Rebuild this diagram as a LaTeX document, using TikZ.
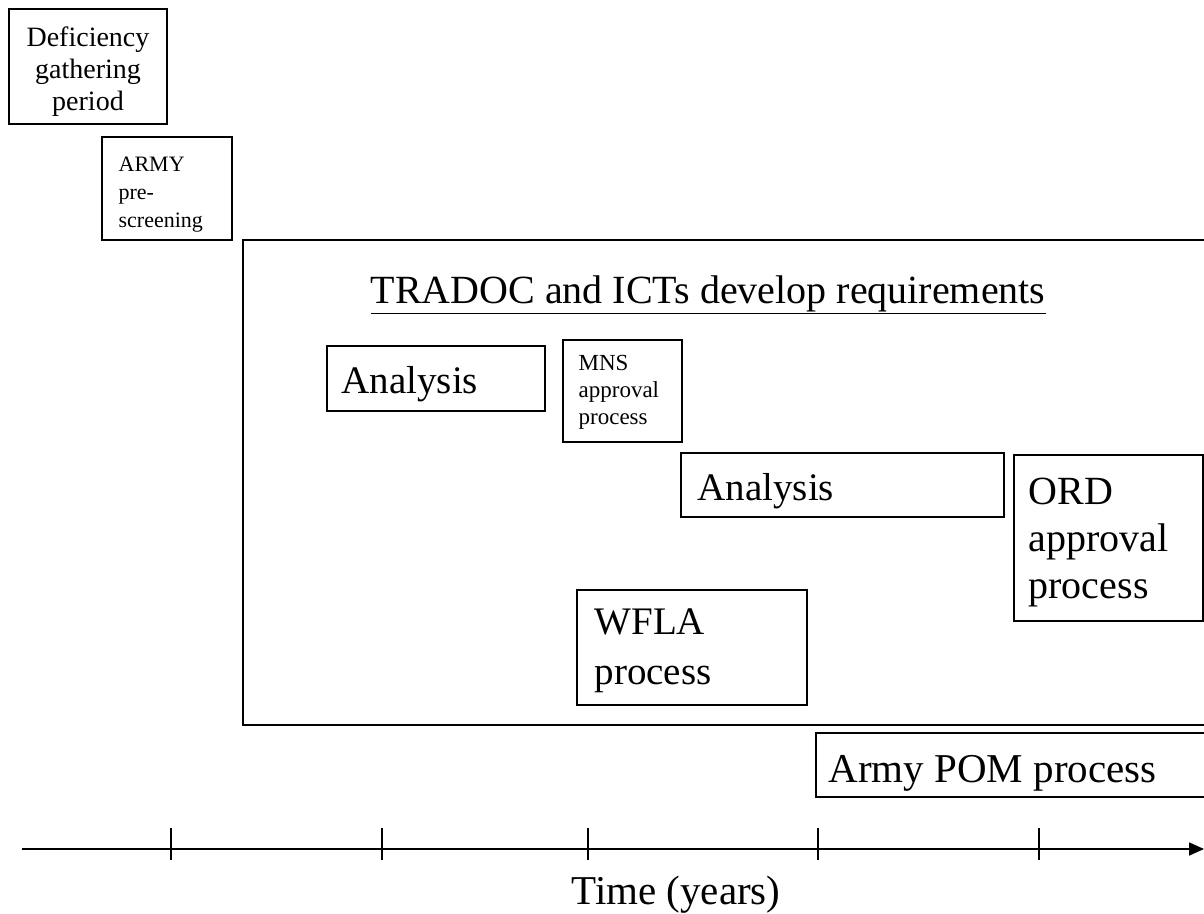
\documentclass[tikz,border=0pt]{standalone}
\usepackage{fontspec}
\setmainfont{Liberation Serif}
\usetikzlibrary{arrows.meta}
\begin{document}
\begin{tikzpicture}[x=1pt,y=-1pt,line width=1.3pt,
  bigtext/.style={font=\fontsize{39}{48}\selectfont,inner sep=0,align=left},
  smalltext/.style={font=\fontsize{23}{27}\selectfont,inner sep=0,align=left}]
\useasboundingbox (0,0) rectangle (1204,913);

\draw (9,9) rectangle (167,124);
\node[font=\fontsize{28}{32}\selectfont,inner sep=0,align=center,anchor=north] (gather) at (88,26) {Deficiency\\gathering\\period};

\draw (102,137) rectangle (232,240);
\node[smalltext,font=\fontsize{22}{28}\selectfont,anchor=north west] (screen) at (118,156) {ARMY\\pre-\\screening};

\draw (1210,240) -- (243,240) -- (243,725) -- (1210,725);
\node[bigtext,font=\fontsize{40}{48}\selectfont,anchor=base west] (tradoc) at (370,303) {\underline{TRADOC and ICTs develop requirements}};

\draw (327,346) rectangle (545,411);
\node[bigtext,anchor=base west] (anaone) at (341,393) {Analysis};

\draw (563,340) rectangle (682,442);
\node[smalltext,anchor=north west] (mns) at (578,355) {MNS\\approval\\process};

\draw (681,453) rectangle (1004,517);
\node[bigtext,anchor=base west] (anatwo) at (697,500) {Analysis};

\draw (1014,455) rectangle (1203,621);
\node[bigtext,font=\fontsize{40}{47}\selectfont,anchor=north west] (ord) at (1028,477) {ORD\\approval\\process};

\draw (577,590) rectangle (807,705);
\node[bigtext,font=\fontsize{39}{50}\selectfont,anchor=north west] (wfla) at (594,608) {WFLA\\process};

\draw (1210,733) -- (816,733) -- (816,797) -- (1210,797);
\node[bigtext,font=\fontsize{41}{48}\selectfont,anchor=base west] (pom) at (828,782) {Army POM process};

% time axis
\coordinate (tstart) at (22,849);
\coordinate (tend) at (1204,849);
\draw[line width=1.6pt,-{Triangle[length=15pt,width=13pt]}] (tstart) -- (tend);
\foreach \t in {171,382,588,818,1039}
  \draw (\t,828) -- (\t,860);
\node[font=\fontsize{41}{48}\selectfont,inner sep=0,anchor=base] (time) at (676,904) {Time (years)};
\end{tikzpicture}
\end{document}
